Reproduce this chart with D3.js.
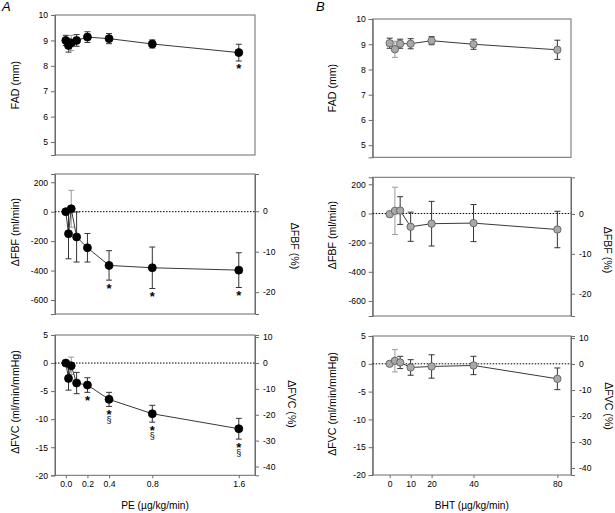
<!DOCTYPE html>
<html><head><meta charset="utf-8">
<script src="https://cdn.jsdelivr.net/npm/d3@7"></script>
<style>
body{margin:0;background:#fff}
svg{display:block}
text{font-family:"Liberation Sans",Arial,Helvetica,sans-serif;fill:#000}
</style>
</head><body>
<svg id="c" width="615" height="513"></svg>
<script>
// ---------- data ----------
const doseA = [0, 0.025, 0.05, 0.1, 0.2, 0.4, 0.8, 1.6];
const fadA = [9.0, 8.8, 8.9, 9.0, 9.13, 9.07, 8.86, 8.52];
const fadAErr = [0.2, 0.26, 0.3, 0.23, 0.21, 0.2, 0.16, 0.33];
const fbfA = [0, -150, 20, -172, -245, -365, -381, -397];
const fbfAErr = [0, 170, 125, 170, 97, 100, 141, 118];
const fvcA = [0, -2.73, -0.48, -3.56, -3.92, -6.47, -9.03, -11.7];
const fvcAErr = [0, 2.1, 1.55, 1.9, 1.3, 1.25, 1.5, 1.85];
const sigFadA = ["", "", "", "", "", "", "", "*"];
const sigFbfA = ["", "", "", "", "", "*", "*", "*"];
const sigFvcA = ["", "", "", "", "*", "*", "*", "*"];
const secFvcA = ["", "", "", "", "", "§", "§", "§"];

const doseB = [0, 2.5, 5, 10, 20, 40, 80];
const fadB = [9.04, 8.8, 9.02, 9.02, 9.14, 9.0, 8.78];
const fadBErr = [0.2, 0.32, 0.18, 0.2, 0.16, 0.2, 0.38];
const fbfB = [-5, 18, 20, -91, -70, -66, -110];
const fbfBErr = [0, 162, 95, 100, 153, 127, 125];
const fvcB = [0, 0.54, 0.24, -0.66, -0.48, -0.3, -2.7];
const fvcBErr = [0, 2.0, 1.1, 1.4, 2.1, 1.65, 1.95];

const xTicksA = [0, 0.2, 0.4, 0.8, 1.6];
const xTicksB = [0, 10, 20, 40, 80];
const fadTicks = [10, 9, 8, 7, 6, 5];
const fbfTicks = [200, 0, -200, -400, -600];
const fbfPctTicks = [0, -10, -20];
const fvcTicks = [5, 0, -5, -10, -15, -20];
const fvcPctTicks = [10, 0, -10, -20, -30, -40];

// ---------- drawing ----------
const svg = d3.select("#c");
const axisCol = "#6a6a6a";
const fmt = d => String(d);

function panel(o) {
  const g = svg.append("g");
  const x = d3.scaleLinear().domain(o.xDom).range([o.x0, o.x1]);
  const y = d3.scaleLinear().domain(o.yDom).range([o.y1, o.y0]);
  g.append("rect").attr("x", o.x0).attr("y", o.y0).attr("width", o.x1 - o.x0).attr("height", o.y1 - o.y0)
    .attr("fill", "none").attr("stroke", axisCol).attr("stroke-width", 1);
  const la = g.append("g").attr("transform", `translate(${o.x0},0)`)
    .call(d3.axisLeft(y).tickValues(o.yTicks).tickFormat(fmt).tickSize(4).tickPadding(3));
  la.select(".domain").attr("stroke", axisCol);
  la.selectAll(".tick line").attr("stroke", axisCol);
  la.selectAll("text").style("font-size", "8.6px").attr("fill", "#000");
  g.append("text").attr("transform", `translate(${o.ltx},${o.lty}) rotate(-90)`)
    .attr("text-anchor", "middle").attr("dominant-baseline", "central").style("font-size", "10.6px").text(o.ltitle);
  if (o.rDom) {
    const yr = d3.scaleLinear().domain(o.rDom).range([o.y1, o.y0]);
    const ra = g.append("g").attr("transform", `translate(${o.x1},0)`)
      .call(d3.axisRight(yr).tickValues(o.rTicks).tickFormat(fmt).tickSize(4).tickPadding(4));
    ra.select(".domain").attr("stroke", axisCol);
    ra.selectAll(".tick line").attr("stroke", axisCol);
    ra.selectAll("text").style("font-size", "8.6px").attr("fill", "#000");
    g.append("text").attr("transform", `translate(${o.rtx},${o.rty}) rotate(90)`)
      .attr("text-anchor", "middle").attr("dominant-baseline", "central").style("font-size", "10.6px").text(o.rtitle);
    g.append("line").attr("x1", o.x0).attr("x2", o.x1).attr("y1", y(0)).attr("y2", y(0))
      .attr("stroke", "#000").attr("stroke-width", 1).attr("stroke-dasharray", "1.5,1.5");
  }
  if (o.xTicks) {
    const xa = g.append("g").attr("transform", `translate(0,${o.y1})`)
      .call(d3.axisBottom(x).tickValues(o.xTicks).tickFormat(o.xFmt).tickSize(3).tickPadding(3));
    xa.select(".domain").remove();
    xa.selectAll(".tick line").attr("stroke", axisCol);
    xa.selectAll("text").style("font-size", "8.6px").attr("fill", "#000");
    g.append("text").attr("x", (o.x0 + o.x1) / 2).attr("y", 509).attr("text-anchor", "middle")
      .style("font-size", "10.2px").text(o.xtitle);
  }
  const pts = o.dose.map((d, i) => ({d, v: o.val[i], e: o.err[i], i}));
  const eb = g.append("g");
  pts.filter(p => p.e > 0).forEach(p => {
    const c = o.lightErr.includes(p.i) ? "#9a9a9a" : "#333";
    const cx = x(p.d), ya = y(p.v + p.e), yb = y(p.v - p.e);
    eb.append("line").attr("x1", cx).attr("x2", cx).attr("y1", ya).attr("y2", yb).attr("stroke", c).attr("stroke-width", 1);
    [ya, yb].forEach(yy => eb.append("line").attr("x1", cx - 3).attr("x2", cx + 3).attr("y1", yy).attr("y2", yy)
      .attr("stroke", c).attr("stroke-width", 1));
  });
  g.append("path").datum(pts).attr("fill", "none").attr("stroke", "#222").attr("stroke-width", 0.9)
    .attr("d", d3.line().x(p => x(p.d)).y(p => y(p.v)));
  g.selectAll("circle.pt").data(pts).join("circle").attr("class", "pt")
    .attr("cx", p => x(p.d)).attr("cy", p => y(p.v)).attr("r", o.r)
    .attr("fill", o.fill).attr("stroke", o.stroke).attr("stroke-width", 0.8);
  if (o.sig) pts.forEach(p => {
    if (!o.sig[p.i]) return;
    const base = y(p.v - p.e) + 5;
    const cx = x(p.d);
    const t = g.append("text").attr("text-anchor", "middle");
    t.append("tspan").attr("x", cx).attr("y", base + 7.5)
      .style("font-size", "13px").style("font-weight", "bold").text(o.sig[p.i]);
    if (o.sec && o.sec[p.i]) t.append("tspan").attr("x", cx).attr("y", base + 12)
      .style("font-size", "9px").style("font-weight", "normal").text(o.sec[p.i]);
  });
}

const A = {x0: 55, x1: 255, xDom: [-0.1, 1.75], dose: doseA, fill: "#000", stroke: "#000", r: 4, lightErr: [2]};
const B = {x0: 372.7, x1: 571, xDom: [-8.1, 86.5], dose: doseB, fill: "#a9a9a9", stroke: "#555", r: 3.7, lightErr: [1]};

panel({...A, y0: 15, y1: 155, yDom: [4.49, 10], yTicks: fadTicks, ltitle: "FAD (mm)", ltx: 15, lty: 85,
  val: fadA, err: fadAErr, sig: sigFadA});
panel({...A, y0: 174, y1: 314, yDom: [-695, 256], yTicks: fbfTicks, ltitle: "ΔFBF (ml/min)", ltx: 15, lty: 232,
  rDom: [-25.4, 9.2], rTicks: fbfPctTicks, rtitle: "ΔFBF (%)", rtx: 295, rty: 246,
  val: fbfA, err: fbfAErr, sig: sigFbfA});
panel({...A, y0: 335, y1: 475.3, yDom: [-20, 5], yTicks: fvcTicks, ltitle: "ΔFVC (ml/min/mmHg)", ltx: 15, lty: 402,
  rDom: [-43.4, 10.8], rTicks: fvcPctTicks, rtitle: "ΔFVC (%)", rtx: 292, rty: 404,
  val: fvcA, err: fvcAErr, sig: sigFvcA, sec: secFvcA,
  xTicks: xTicksA, xFmt: d3.format(".1f"), xtitle: "PE (µg/kg/min)"});

panel({...B, y0: 19, y1: 157.3, yDom: [4.52, 10], yTicks: fadTicks, ltitle: "FAD (mm)", ltx: 332, lty: 88,
  val: fadB, err: fadBErr});
panel({...B, y0: 177.3, y1: 316, yDom: [-703, 248], yTicks: fbfTicks, ltitle: "ΔFBF (ml/min)", ltx: 332, lty: 235,
  rDom: [-25.6, 9.2], rTicks: fbfPctTicks, rtitle: "ΔFBF (%)", rtx: 608, rty: 250,
  val: fbfB, err: fbfBErr});
panel({...B, y0: 336, y1: 475, yDom: [-20, 5], yTicks: fvcTicks, ltitle: "ΔFVC (ml/min/mmHg)", ltx: 332, lty: 404,
  rDom: [-42.7, 10.8], rTicks: fvcPctTicks, rtitle: "ΔFVC (%)", rtx: 609, rty: 406,
  val: fvcB, err: fvcBErr,
  xTicks: xTicksB, xFmt: d3.format("d"), xtitle: "BHT (µg/kg/min)"});

svg.append("text").attr("x", 2).attr("y", 11).style("font-size", "13px").style("font-style", "italic").text("A");
svg.append("text").attr("x", 316).attr("y", 11).style("font-size", "13px").style("font-style", "italic").text("B");
</script>
</body></html>
